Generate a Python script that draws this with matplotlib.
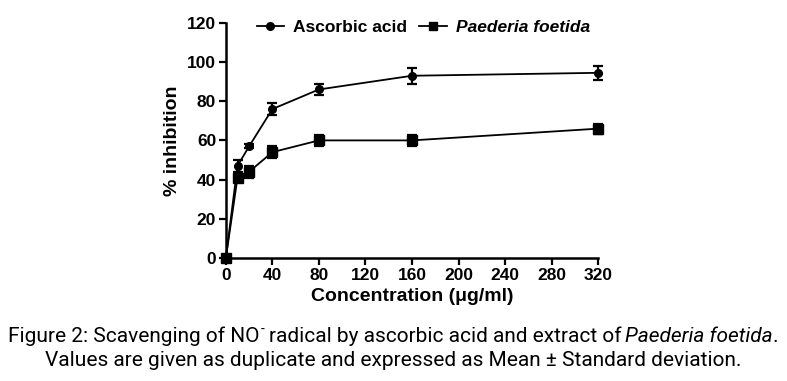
import matplotlib
matplotlib.use("Agg")
import matplotlib.pyplot as plt
from matplotlib.lines import Line2D

conc = [0, 10, 20, 40, 80, 160, 320]
ascorbic = [0, 47, 57, 76, 86, 93, 94.5]
ascorbic_sd = [0, 3, 1, 3, 3, 4, 3.5]
paederia = [0, 41, 44, 54, 60, 60, 66]
paederia_sd = [0, 2, 3, 3, 3, 3, 2.5]
xticks = [0, 40, 80, 120, 160, 200, 240, 280, 320]
yticks = [0, 20, 40, 60, 80, 100, 120]

plt.rcParams['font.family'] = ['Liberation Sans', 'DejaVu Sans']

fig = plt.figure(figsize=(7.87, 3.81), dpi=100)
ax = fig.add_axes([0.287, 0.323, 0.473, 0.617])

ax.errorbar(conc, ascorbic, yerr=ascorbic_sd, color='black', marker='o',
            markersize=5.5, linewidth=1.3, elinewidth=1.6, capsize=3.5,
            capthick=1.6, clip_on=False, zorder=3)
ax.errorbar(conc, paederia, yerr=paederia_sd, color='black', marker='s',
            markersize=7, linewidth=1.3, elinewidth=1.6, capsize=3.5,
            capthick=1.6, clip_on=False, zorder=3)

ax.set_xlim(0, 320)
ax.set_ylim(0, 120)
ax.set_xticks(xticks)
ax.set_yticks(yticks)
for s in ['top', 'right']:
    ax.spines[s].set_visible(False)
for s in ['left', 'bottom']:
    ax.spines[s].set_linewidth(1.8)
ax.tick_params(direction='out', width=1.6, length=5, labelsize=12.5, pad=2)
for lab in ax.get_xticklabels() + ax.get_yticklabels():
    lab.set_fontweight('bold')

ax.set_xlabel('Concentration (\u03bcg/ml)', fontsize=14, fontweight='bold', labelpad=4)
ax.set_ylabel('% inhibition', fontsize=14, fontweight='bold', labelpad=4)

handles = [Line2D([], [], color='black', marker='o', markersize=5.5, linewidth=1.3),
           Line2D([], [], color='black', marker='s', markersize=6, linewidth=1.3)]
leg = ax.legend(handles, ['Ascorbic acid', 'Paederia foetida'],
                loc='upper center', bbox_to_anchor=(0.53, 1.08), ncol=2,
                frameon=False, prop={'weight': 'bold', 'size': 12.5},
                handlelength=1.6, columnspacing=0.7, handletextpad=0.5)
leg.get_texts()[1].set_fontstyle('italic')

# caption, first line is built from pieces (superscript, italic name)
cap = dict(fontsize=15, family=['Roboto', 'DejaVu Sans'])
r = fig.canvas.get_renderer()
y1 = 0.103
pieces = [
    (fig.text(0, y1, 'Figure 2: Scavenging of NO', **cap), 0),
    (fig.text(0, y1 + 0.022, '-', fontsize=10, family='Roboto'), 1),
    (fig.text(0, y1, 'radical by ascorbic acid and extract of', **cap), 4),
    (fig.text(0, y1, 'Paederia foetida', style='italic', **cap), 4),
    (fig.text(0, y1, '.', **cap), 0),
]
widths = [t.get_window_extent(r).width for t, _ in pieces]
total = sum(widths) + sum(g for _, g in pieces)
x0 = (fig.bbox.width - total) / 2
for (t, gap), w in zip(pieces, widths):
    x0 += gap
    t.set_x(x0 / fig.bbox.width)
    x0 += w
fig.text(0.5, 0.04, 'Values are given as duplicate and expressed as Mean \u00b1 Standard deviation.',
         ha='center', **cap)

fig.savefig('out.png', dpi=100)
